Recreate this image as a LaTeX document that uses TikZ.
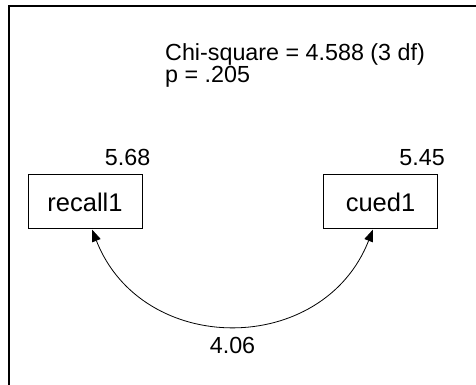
\documentclass[tikz,border=0pt]{standalone}
\usepackage{fontspec}
\setmainfont{Liberation Sans}
\usetikzlibrary{arrows.meta,calc,positioning}
\begin{document}
\begin{tikzpicture}[x=1pt,y=1pt,
	var/.style={draw, line width=1pt, minimum width=114pt, minimum height=54pt, inner sep=0pt, font=\fontsize{25.5}{30}\selectfont},
	est/.style={inner sep=0pt, font=\fontsize{23.3}{26}\selectfont},
	cov/.style={{Triangle[length=12pt,width=9pt]}-{Triangle[length=12pt,width=9pt]}, line width=0.8pt}]
	\useasboundingbox (0,0) rectangle (476,385);
	\draw[line width=2pt] (476,379) -- (9,379) -- (9,0);
	\node[var] (recall1) at (85,183) {recall1};
	\node[var] (cued1) at (380.5,183) {cued1};
	\node[est, anchor=base east] (vrecall) at ($(recall1.north east)+(8,9.3)$) {5.68};
	\node[est, anchor=base east] (vcued) at ($(cued1.north east)+(7,9.3)$) {5.45};
	\node[est, anchor=base west] (chisq) at (165,324) {Chi-square = 4.588 (3 df)};
	\node[est, anchor=base west] (pval) at ($(chisq.base west)+(0,-22)$) {p = .205};
	\draw[cov] ([xshift=7pt]recall1.south) to[out=-68.6, in=-111.4, looseness=1.25] node[est, below=12pt] (rcov) {4.06} ([xshift=-7.5pt]cued1.south);
\end{tikzpicture}
\end{document}
